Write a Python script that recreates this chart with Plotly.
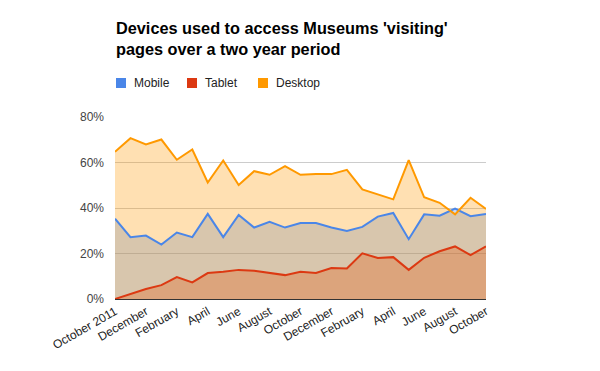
import plotly.graph_objects as go

months = ["October 2011", "November", "December", "January", "February", "March",
          "April", "May", "June", "July", "August", "September", "October",
          "November", "December", "January", "February", "March", "April", "May",
          "June", "July", "August", "September", "October"]
tick_labels = ["October 2011", "December", "February", "April", "June", "August",
               "October", "December", "February", "April", "June", "August", "October"]
y_ticks = [0, 20, 40, 60, 80]
y_tick_labels = ["0%", "20%", "40%", "60%", "80%"]

mobile = [35.3, 27.2, 27.9, 23.9, 29.2, 27.2, 37.4, 27.2, 36.9, 31.4, 33.9, 31.4, 33.4,
          33.4, 31.4, 29.9, 31.7, 36.2, 37.8, 26.3, 37.2, 36.6, 39.7, 36.4, 37.4]
tablet = [0.0, 2.3, 4.4, 6.1, 9.6, 7.3, 11.4, 12.0, 12.8, 12.4, 11.6, 10.5, 12.0,
          11.4, 13.6, 13.4, 20.1, 18.0, 18.4, 12.8, 18.1, 21.0, 23.1, 19.3, 23.1]
desktop = [64.7, 70.7, 67.9, 70.1, 61.2, 65.7, 51.2, 60.9, 50.1, 56.2, 54.6, 58.4, 54.6,
           55.0, 54.9, 56.8, 48.2, 46.0, 43.8, 61.0, 44.7, 42.3, 37.2, 44.5, 39.6]

series = [("Mobile", mobile, "#4a86e8"), ("Tablet", tablet, "#dc3912"), ("Desktop", desktop, "#ff9900")]

def rgba(hexc, a):
    h = hexc.lstrip("#")
    return "rgba(%d,%d,%d,%s)" % (int(h[0:2], 16), int(h[2:4], 16), int(h[4:6], 16), a)

x = list(range(len(months)))
fig = go.Figure()
for name, vals, col in series:
    fig.add_trace(go.Scatter(x=x, y=vals, mode="none", fill="tozeroy",
                             fillcolor=rgba(col, 0.3), showlegend=False, hoverinfo="skip"))
for name, vals, col in series:
    fig.add_trace(go.Scatter(x=x, y=vals, mode="lines", name=name,
                             line=dict(color=col, width=2), showlegend=False,
                             text=months, hovertemplate="%{text}: %{y}%<extra>" + name + "</extra>"))

# page body has an 8px margin; work in figure coordinates
OFF = 8
FW, FH = 600 - OFF, 371 - OFF
L, R, T, B = 115 - OFF, 486 - OFF, 117 - OFF, 299 - OFF
W = R - L
H = B - T
def px(xp):
    return (xp - OFF - L) / W
def py(yp):
    return (B - (yp - OFF)) / H

FONT = "Arial, Liberation Sans, sans-serif"

# Title
fig.add_annotation(text="<b>Devices used to access Museums 'visiting'<br>pages over a two year period</b>",
                   xref="paper", yref="paper", x=px(114), y=py(17), xanchor="left", yanchor="top",
                   align="left", showarrow=False,
                   font=dict(family=FONT, size=16.3, color="#000000"))

# Legend
leg_x = [116, 187, 258]
for (name, vals, col), lx in zip(series, leg_x):
    fig.add_shape(type="rect", xref="paper", yref="paper",
                  x0=px(lx), x1=px(lx + 10), y0=py(88), y1=py(78),
                  fillcolor=col, line=dict(width=0))
    fig.add_annotation(text=name, xref="paper", yref="paper", x=px(lx + 16), y=py(83),
                       xanchor="left", yanchor="middle", showarrow=False,
                       font=dict(family=FONT, size=12, color="#222222"))

fig.update_layout(
    width=FW, height=FH,
    margin=dict(l=L, r=FW - R, t=T, b=FH - B, pad=0),
    paper_bgcolor="white", plot_bgcolor="white",
    font=dict(family=FONT, size=12, color="#444444"),
    showlegend=False,
)
fig.update_xaxes(range=[0, len(months) - 1], tickmode="array",
                 tickvals=list(range(0, len(months), 2)), ticktext=tick_labels,
                 tickangle=-30, showgrid=False, zeroline=False, automargin=False,
                 showline=True, linecolor="#333333", linewidth=1, layer="above traces",
                 tickfont=dict(size=12, color="#222222"), ticks="")
fig.update_yaxes(range=[0, 80], tickmode="array", tickvals=y_ticks, ticktext=y_tick_labels,
                 showgrid=True, gridcolor="#cccccc", gridwidth=1, automargin=False,
                 zeroline=False, ticklabelstandoff=10,
                 tickfont=dict(size=12, color="#444444"))

fig.write_html("out.html")
